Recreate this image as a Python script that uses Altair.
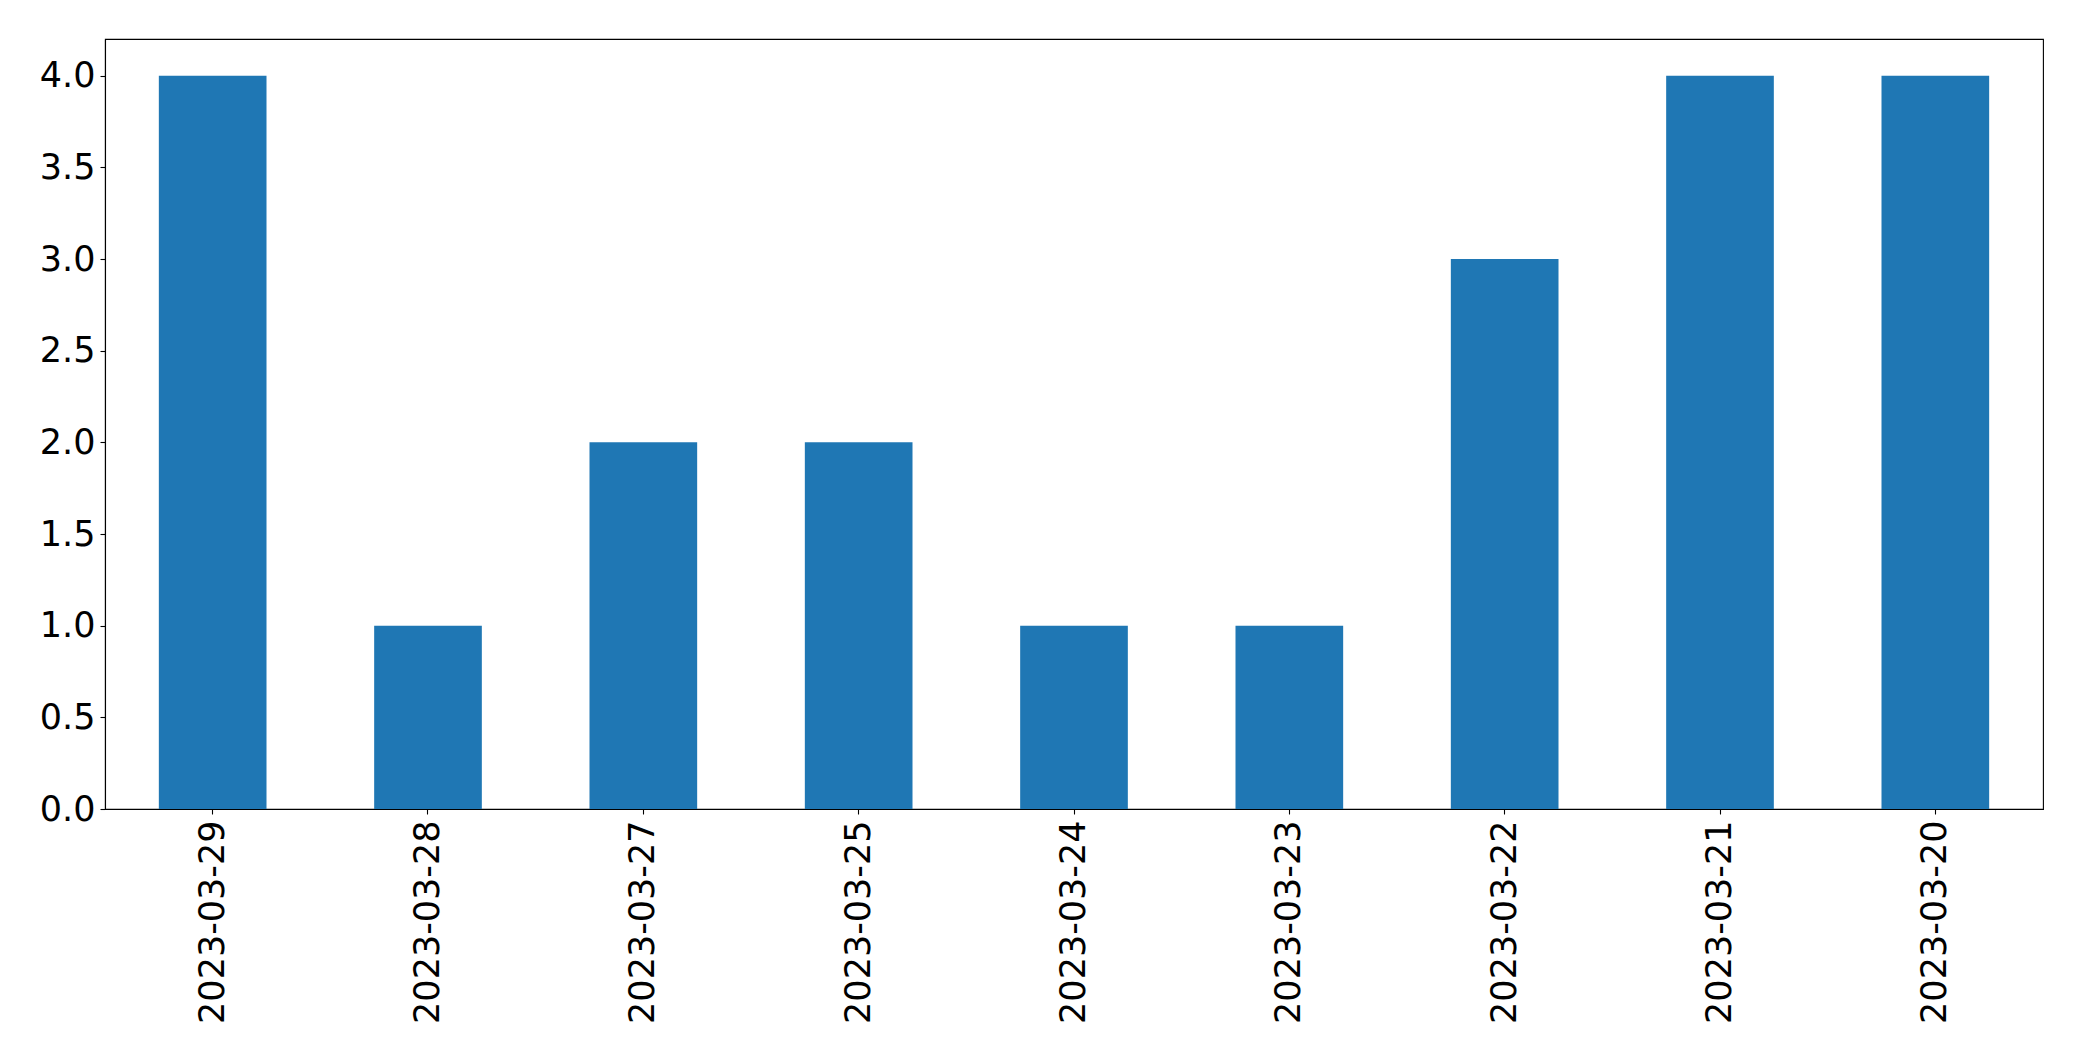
import altair as alt
import pandas as pd

dates = ["2023-03-29", "2023-03-28", "2023-03-27", "2023-03-25", "2023-03-24",
         "2023-03-23", "2023-03-22", "2023-03-21", "2023-03-20"]
counts = [4, 1, 2, 2, 1, 1, 3, 4, 4]
y_ticks = [0.0, 0.5, 1.0, 1.5, 2.0, 2.5, 3.0, 3.5, 4.0]

df = pd.DataFrame({"date": dates, "count": counts})

chart = alt.Chart(df).mark_bar(color="#1f77b4").encode(
    x=alt.X("date:N", sort=dates, title=None,
            scale=alt.Scale(paddingInner=0.5, paddingOuter=0.25),
            axis=alt.Axis(labelAngle=270, labelFontSize=35, labelFont="DejaVu Sans",
                          labelColor="black", tickColor="black", domainColor="black",
                          tickSize=5, tickWidth=1.1, domainWidth=1.1, labelPadding=6,
                          labelAlign="right", labelBaseline="middle", labelLimit=0,
                          grid=False)),
    y=alt.Y("count:Q", title=None,
            scale=alt.Scale(domain=[0, 4.2], nice=False, zero=True),
            axis=alt.Axis(values=y_ticks, format=".1f", labelFontSize=35,
                          labelFont="DejaVu Sans", labelColor="black",
                          tickColor="black", domainColor="black", tickSize=5,
                          tickWidth=1.1, domainWidth=1.1, labelPadding=5, grid=False)),
).properties(
    width=1938, height=770,
    autosize=alt.AutoSizeParams(type="none"),
    padding={"left": 97, "top": 31, "right": 30, "bottom": 240},
).configure(
    background="white"
).configure_view(
    stroke="black", strokeWidth=1.1
)

chart.save("out.html", embed_options={"renderer": "svg", "actions": False})
